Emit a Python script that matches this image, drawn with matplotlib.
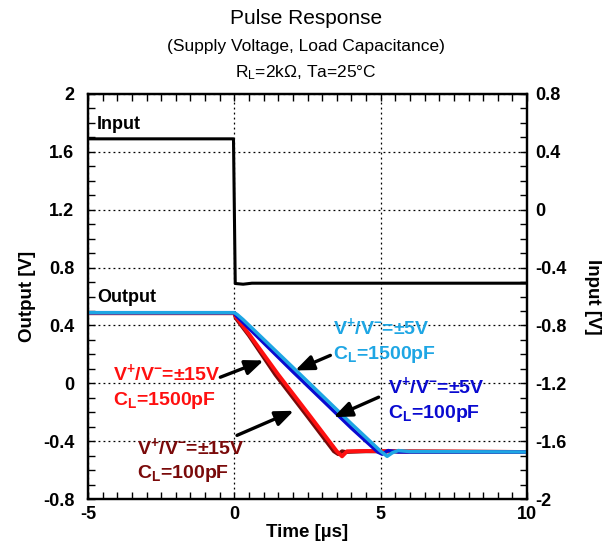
import matplotlib
matplotlib.use("Agg")
import matplotlib.pyplot as plt
from matplotlib.ticker import MultipleLocator

plt.rcParams["font.family"] = ["Liberation Sans", "DejaVu Sans"]
plt.rcParams["mathtext.fontset"] = "custom"
plt.rcParams["mathtext.rm"] = "Liberation Sans"
plt.rcParams["mathtext.bf"] = "Liberation Sans:bold"
plt.rcParams["mathtext.it"] = "Liberation Sans:italic"

# --- data ---------------------------------------------------------------

# input step, read on the right axis [V]
input_t = [-5.0, -0.03, 0.03, 0.3, 0.6, 10.0]
input_v = [0.49, 0.49, -0.51, -0.515, -0.508, -0.508]

# outputs, left axis [V]
cl100_15v_t = [-5.0, 0.0, 0.05, 0.5, 1.4, 2.5, 3.4, 3.55, 3.68, 3.8, 4.5, 10.0]
cl100_15v_v = [0.485, 0.485, 0.45, 0.33, 0.06, -0.23, -0.47, -0.49, -0.47, -0.475, -0.47, -0.475]

cl1500_15v_t = [-5.0, 0.0, 0.05, 0.5, 1.5, 2.6, 3.5, 3.68, 3.85, 4.5, 5.5, 10.0]
cl1500_15v_v = [0.485, 0.485, 0.46, 0.34, 0.06, -0.23, -0.47, -0.505, -0.47, -0.468, -0.47, -0.475]

cl100_5v_t = [-5.0, 0.0, 0.05, 0.3, 2.0, 4.0, 4.9, 5.05, 5.25, 5.6, 10.0]
cl100_5v_v = [0.488, 0.488, 0.47, 0.42, 0.08, -0.31, -0.475, -0.49, -0.465, -0.475, -0.475]

cl1500_5v_t = [-5.0, 0.0, 0.1, 0.3, 2.0, 4.0, 5.0, 5.22, 5.4, 5.6, 6.0, 10.0]
cl1500_5v_v = [0.488, 0.488, 0.475, 0.44, 0.11, -0.28, -0.47, -0.505, -0.48, -0.465, -0.472, -0.475]

x_ticks = [-5, 0, 5, 10]
left_ticks = [2.0, 1.6, 1.2, 0.8, 0.4, 0.0, -0.4, -0.8]
right_ticks = [0.8, 0.4, 0.0, -0.4, -0.8, -1.2, -1.6, -2.0]

RED = "#ff1010"
DARK_RED = "#7a0a0a"
BLUE = "#0a0ad0"
LIGHT_BLUE = "#1ea6e4"

# --- figure -------------------------------------------------------------

fig = plt.figure(figsize=(6.1, 5.5), dpi=100)
ax = fig.add_axes([0.1443, 0.0927, 0.7197, 0.7364])
ax2 = ax.twinx()

ax.set_xlim(-5, 10)
ax.set_ylim(-0.8, 2.0)
ax2.set_ylim(-2.0, 0.8)

ax.xaxis.set_minor_locator(MultipleLocator(0.5))
ax.yaxis.set_minor_locator(MultipleLocator(0.1))
ax2.yaxis.set_minor_locator(MultipleLocator(0.1))

TICK_FS = 13
ax.tick_params(axis="x", which="both", direction="in", top=True, length=5, width=1,
               labelsize=TICK_FS, pad=5)
ax.tick_params(axis="y", which="both", direction="in", right=False, length=5, width=1,
               labelsize=TICK_FS, pad=10)
ax2.tick_params(axis="y", which="both", direction="in", length=5, width=1,
                labelsize=TICK_FS, pad=6)


def fmt(v):
    s = f"{v:.1f}".rstrip("0").rstrip(".")
    return "0" if s in ("-0", "0") else s


ax.set_xticks(x_ticks)
ax.set_xticklabels([str(v) for v in x_ticks], fontweight="bold")
ax.set_yticks(left_ticks)
ax.set_yticklabels([fmt(v) for v in left_ticks], fontweight="bold")
ax2.set_yticks(right_ticks)
ax2.set_yticklabels([fmt(v) for v in right_ticks], fontweight="bold")

for a in (ax, ax2):
    for sp in a.spines.values():
        sp.set_linewidth(1.6)

ax.grid(True, which="major", color="black", linestyle=(0, (1.5, 2.5)), linewidth=0.9)

ax.set_xlabel("Time [µs]", fontsize=13.5, fontweight="bold", labelpad=1)
ax.set_ylabel("Output [V]", fontsize=13.5, fontweight="bold", labelpad=5)
ax2.set_ylabel("Input [V]", fontsize=13.5, fontweight="bold", rotation=-90, labelpad=25)

# traces
ax2.plot(input_t, input_v, color="black", linewidth=2.2, zorder=3)
ax.plot(cl100_15v_t, cl100_15v_v, color=DARK_RED, linewidth=2.8, zorder=3)
ax.plot(cl1500_15v_t, cl1500_15v_v, color=RED, linewidth=2.8, zorder=3)
ax.plot(cl100_5v_t, cl100_5v_v, color=BLUE, linewidth=2.5, zorder=3)
ax.plot(cl1500_5v_t, cl1500_5v_v, color=LIGHT_BLUE, linewidth=2.5, zorder=3)

ax.text(-4.7, 1.79, "Input", fontsize=13, fontweight="bold", va="center")
ax.text(-4.7, 0.59, "Output", fontsize=13, fontweight="bold", va="center")


def sup_label(volt):
    return r"V$^{\mathbf{+}}$/V$^{\mathbf{-}}$=±" + volt


def cl_label(cap):
    return r"C$_{\mathbf{L}}$=" + cap


# annotations: label lines, colour, text anchor, arrow tail, arrow tip
annots = [
    (sup_label("15V"), cl_label("1500pF"), RED, (-4.13, 0.068), (-0.48, 0.042), (1.0, 0.158)),
    (sup_label("15V"), cl_label("100pF"), DARK_RED, (-3.31, -0.437), (0.09, -0.36), (2.03, -0.19)),
    (sup_label("5V"), cl_label("1500pF"), LIGHT_BLUE, (3.38, 0.386), (3.28, 0.193), (2.08, 0.089)),
    (sup_label("5V"), cl_label("100pF"), BLUE, (5.26, -0.022), (4.93, -0.096), (3.39, -0.234)),
]
for line1, line2, col, (tx, ty), tail, tip in annots:
    ax.text(tx, ty, line1, color=col, fontsize=14, fontweight="bold", va="center", ha="left")
    ax.text(tx, ty - 0.187, line2, color=col, fontsize=14, fontweight="bold", va="center", ha="left")
    ax.annotate("", xy=tip, xytext=tail,
                arrowprops=dict(arrowstyle="-|>,head_length=1.1,head_width=0.45",
                                color="black", linewidth=2.4, shrinkA=0, shrinkB=0),
                zorder=5)

# titles
fig.text(0.502, 1 - 18 / 550, "Pulse Response", ha="center", va="center", fontsize=15)
fig.text(0.502, 1 - 46 / 550, "(Supply Voltage, Load Capacitance)", ha="center",
         va="center", fontsize=12.5)
fig.text(0.502, 1 - 73 / 550, r"R$_{\mathrm{L}}$=2kΩ, Ta=25°C", ha="center",
         va="center", fontsize=12.5)

fig.savefig("out.png", dpi=100)
